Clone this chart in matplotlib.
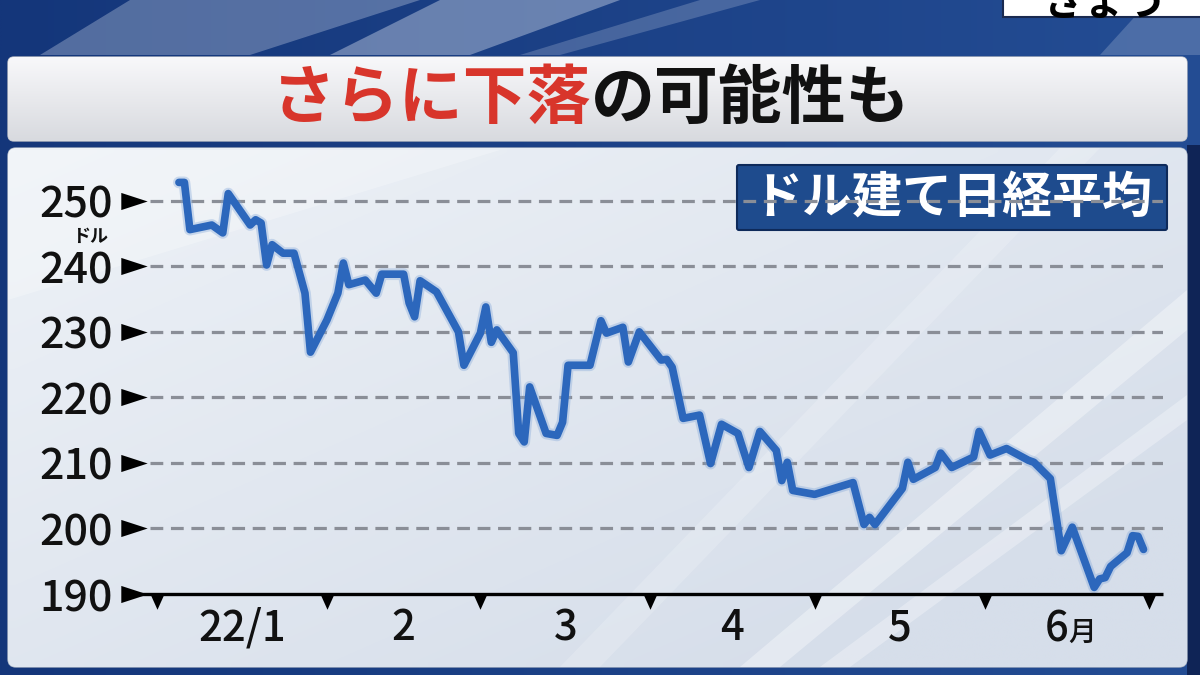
import numpy as np
import matplotlib
matplotlib.use('Agg')
import matplotlib.pyplot as plt
import matplotlib.dates as mdates
import matplotlib.transforms as mtrans
from matplotlib.patches import FancyBboxPatch, Polygon, Rectangle
import pandas as pd

plt.rcParams['font.family'] = ['Noto Sans CJK JP', 'DejaVu Sans']

# ---------------- data ----------------
dates = ['2022-01-05', '2022-01-06', '2022-01-07', '2022-01-11', '2022-01-13', '2022-01-14',
         '2022-01-18', '2022-01-19', '2022-01-20', '2022-01-21', '2022-01-22', '2022-01-24',
         '2022-01-26', '2022-01-28', '2022-01-29', '2022-02-01', '2022-02-03', '2022-02-04',
         '2022-02-05', '2022-02-08', '2022-02-10', '2022-02-11', '2022-02-15', '2022-02-16',
         '2022-02-17', '2022-02-18', '2022-02-21', '2022-02-25', '2022-02-26', '2022-03-01',
         '2022-03-02', '2022-03-03', '2022-03-04', '2022-03-07', '2022-03-08', '2022-03-09',
         '2022-03-10', '2022-03-13', '2022-03-15', '2022-03-16', '2022-03-17', '2022-03-21',
         '2022-03-23', '2022-03-24', '2022-03-27', '2022-03-28', '2022-03-30', '2022-04-03',
         '2022-04-04', '2022-04-05', '2022-04-07', '2022-04-10', '2022-04-12', '2022-04-14',
         '2022-04-17', '2022-04-19', '2022-04-21', '2022-04-24', '2022-04-25', '2022-04-26',
         '2022-04-27', '2022-05-01', '2022-05-08', '2022-05-10', '2022-05-11', '2022-05-12',
         '2022-05-17', '2022-05-18', '2022-05-19', '2022-05-23', '2022-05-24', '2022-05-26',
         '2022-05-30', '2022-05-31', '2022-06-02', '2022-06-05', '2022-06-09', '2022-06-10',
         '2022-06-13', '2022-06-15', '2022-06-17', '2022-06-21', '2022-06-22', '2022-06-23',
         '2022-06-24', '2022-06-27', '2022-06-28', '2022-06-29', '2022-06-30']
values = [252.8, 252.8, 245.6, 246.3, 245.1, 251.1,
          246.3, 247.1, 246.6, 240.2, 243.3, 242.0,
          242.0, 235.9, 226.9, 231.8, 235.9, 240.5,
          237.2, 237.9, 235.9, 238.8, 238.8, 234.4,
          232.3, 237.8, 236.1, 230.0, 224.9, 229.8,
          233.8, 228.4, 230.3, 226.8, 214.5, 213.2,
          221.6, 214.5, 214.2, 216.2, 224.9, 224.9,
          231.7, 229.8, 230.7, 225.4, 230.0, 225.7,
          225.8, 224.6, 216.8, 217.3, 209.9, 215.9,
          214.5, 209.3, 214.8, 211.9, 207.3, 210.1,
          205.8, 205.2, 207.0, 200.6, 201.7, 200.6,
          206.1, 210.1, 207.5, 209.3, 211.5, 209.3,
          210.9, 214.8, 211.2, 212.2, 210.4, 210.1,
          207.6, 196.6, 200.2, 191.0, 192.3, 192.5,
          194.2, 196.3, 198.9, 198.8, 196.8]
yticks = [190, 200, 210, 220, 230, 240, 250]
ytick_labels = ['190', '200', '210', '220', '230', '240', '250']
month_starts = ['2022-01-01', '2022-02-01', '2022-03-01', '2022-04-01',
                '2022-05-01', '2022-06-01', '2022-07-01']
month_labels = ['22/1', '2', '3', '4', '5', '6']
title_red = 'さらに下落'
title_black = 'の可能性も'
series_label = 'ドル建て日経平均'
unit_label = 'ドル'

# ---------------- figure ----------------
W, H = 1200, 675
fig = plt.figure(figsize=(12, 6.75), dpi=100)

bg = fig.add_axes([0, 0, 1, 1], zorder=0)
bg.set_xlim(0, W)
bg.set_ylim(H, 0)
bg.axis('off')

# dark blue backdrop
yy, xx = np.mgrid[0:H:4, 0:W:4]
base = np.zeros(yy.shape + (3,))
c1 = np.array([0x14, 0x36, 0x7a]) / 255
c2 = np.array([0x24, 0x4d, 0x94]) / 255
t = (xx / W)[..., None]
base[:] = c1 * (1 - t) + c2 * t
bg.imshow(base, extent=[0, W, H, 0], aspect='auto', zorder=0, interpolation='bilinear')

# light streaks in the top band
for pts, a in [([(130, 0), (420, 0), (250, 55), (40, 55)], 0.35),
               ([(440, 0), (620, 0), (470, 55), (330, 55)], 0.45),
               ([(700, 0), (760, 0), (560, 55), (520, 55)], 0.25),
               ([(1150, 0), (1200, 0), (1200, 55), (1100, 55)], 0.25)]:
    bg.add_patch(Polygon(pts, closed=True, facecolor='#c9d3e6', alpha=a,
                         edgecolor='none', zorder=1))

# top-right cut-off white box (partly outside the frame, as in the broadcast)
bg.add_patch(Rectangle((1003, -5), 200, 22, facecolor='white', edgecolor='#1a2a50',
                       lw=1.5, zorder=2))
bg.text(1105, 3, 'きょう', fontsize=30, fontweight='bold', color='black',
        ha='center', va='center', zorder=3)

# title box with vertical gradient
title_box = FancyBboxPatch((8, 57), 1179, 84, boxstyle='round,pad=0,rounding_size=6',
                           facecolor='#e8e9ec', edgecolor='#b8bcc4', lw=1, zorder=2)
bg.add_patch(title_box)
g = np.linspace(0, 1, 64)[:, None]
top_c = np.array([0xf8, 0xf8, 0xfa]) / 255
bot_c = np.array([0xd8, 0xda, 0xdf]) / 255
grad = (top_c * (1 - g[..., None]) + bot_c * g[..., None]) * np.ones((64, 4, 1))
im = bg.imshow(grad, extent=[8, 1187, 141, 57], aspect='auto', zorder=2.1,
               interpolation='bilinear')
im.set_clip_path(title_box)

bg.text(591, 99, title_red, fontsize=46, fontweight='bold', color='#d8352b',
        ha='right', va='center', zorder=4)
bg.text(591, 99, title_black, fontsize=46, fontweight='bold', color='#111111',
        ha='left', va='center', zorder=4)

# chart panel
bg.add_patch(Rectangle((1187, 145), 13, 530, facecolor='#0f2456', edgecolor='none', zorder=1.5))
panel = FancyBboxPatch((8, 148), 1179, 519, boxstyle='round,pad=0,rounding_size=8',
                       facecolor='#dde4ee', edgecolor='#aab4c4', lw=1, zorder=2)
bg.add_patch(panel)
pg = np.zeros((60, 80, 3))
py, px = np.mgrid[0:60, 0:80]
lt = np.clip(1 - (px / 80 * 0.6 + py / 60 * 0.6), 0, 1)[..., None]
pc_light = np.array([0xee, 0xf2, 0xf7]) / 255
pc_dark = np.array([0xd6, 0xde, 0xea]) / 255
pg[:] = pc_dark * (1 - lt) + pc_light * lt
im2 = bg.imshow(pg, extent=[8, 1187, 667, 148], aspect='auto', zorder=2.1,
                interpolation='bilinear')
im2.set_clip_path(panel)
for pts, a in [([(740, 667), (780, 667), (1187, 330), (1187, 290)], 0.35),
               ([(820, 667), (850, 667), (1187, 420), (1187, 395)], 0.3),
               ([(560, 667), (600, 667), (1100, 148), (1060, 148)], 0.18),
               ([(8, 150), (500, 150), (8, 300)], 0.25)]:
    p = Polygon(pts, closed=True, facecolor='white', alpha=a, edgecolor='none', zorder=2.2)
    bg.add_patch(p)
    p.set_clip_path(panel)

# series label box
bg.add_patch(FancyBboxPatch((737, 165), 430, 65, boxstyle='round,pad=0,rounding_size=2',
                            facecolor='#1e4b8d', edgecolor='#0e2a5a', lw=1.5, zorder=6))
bg.text(952, 198, series_label, fontsize=36, fontweight='bold', color='white',
        ha='center', va='center', zorder=7)

bg.text(90, 236, unit_label, fontsize=13, fontweight='bold', color='#111111',
        ha='center', va='center', zorder=7)

# ---------------- chart axes ----------------
x0, x1 = 150, 1163
ytop, ybot = 168, 594
ax = fig.add_axes([x0 / W, (H - ybot) / H, (x1 - x0) / W, (ybot - ytop) / H], zorder=3)
ax.patch.set_alpha(0)

d = pd.to_datetime(dates)
ms_num = mdates.date2num(pd.to_datetime(month_starts))
jan1 = ms_num[0]
px_per_day = (1149 - 157) / (ms_num[-1] - ms_num[0])
ax.set_xlim(jan1 - (157 - x0) / px_per_day, jan1 + (x1 - 157) / px_per_day)
ax.set_ylim(190, 255)

for v in yticks[1:]:
    ax.axhline(v, color='#8a8e97', lw=2.3, dashes=(4, 2.4), zorder=1)

ax.plot(d, values, color='#7ea4d8', lw=8.5, alpha=0.35, solid_joinstyle='round',
        solid_capstyle='round', zorder=4)
ax.plot(d, values, color='#2c67bc', lw=5.5, solid_joinstyle='round',
        solid_capstyle='round', zorder=5)

for s in ax.spines.values():
    s.set_visible(False)

blend = mtrans.blended_transform_factory(ax.transAxes, ax.transData)
ax.plot([(130 - x0) / (x1 - x0), 1.0], [190, 190], transform=blend, color='black',
        lw=2.4, clip_on=False, zorder=6, solid_capstyle='butt')

tri_right = [(-1, -0.65), (1, 0), (-1, 0.65), (-1, -0.65)]
ax.plot([(134 - x0) / (x1 - x0)] * len(yticks), yticks, transform=blend, ls='none',
        marker=tri_right, ms=19, color='black', mec='black', mew=0, clip_on=False, zorder=7)

tri_down = [(-0.45, 0), (0.45, 0), (0, -1), (-0.45, 0)]
ax.plot(ms_num, [190] * len(ms_num), ls='none', marker=tri_down, ms=22,
        color='black', mew=0, clip_on=False, zorder=7)

ax.set_yticks(yticks)
ax.set_yticklabels(ytick_labels)
ax.tick_params(axis='y', length=0, pad=27, labelsize=31, labelcolor='#111111')
for lab in ax.get_yticklabels():
    lab.set_fontweight('medium')

mids = [(ms_num[i] + ms_num[i + 1]) / 2 for i in range(len(ms_num) - 1)]
ax.set_xticks(ms_num)
ax.set_xticklabels([''] * len(ms_num))
ax.set_xticks(mids[:-1], minor=True)
ax.set_xticklabels(month_labels[:-1], minor=True)
ax.tick_params(axis='x', which='both', length=0, pad=9, labelsize=30, labelcolor='#111111')
for lab in ax.get_xticklabels(minor=True):
    lab.set_fontweight('medium')

# June label with a smaller 月
tx = mtrans.blended_transform_factory(ax.transData, bg.transData)
ax.text(mids[-1] + 0.3, 641, month_labels[-1], transform=tx, fontsize=30, color='#111111',
        fontweight='medium', ha='right', va='baseline', zorder=7)
ax.text(mids[-1] + 0.3, 641, '月', transform=tx, fontsize=20, color='#111111',
        fontweight='medium', ha='left', va='baseline', zorder=7)

fig.savefig('out.png', dpi=100)
